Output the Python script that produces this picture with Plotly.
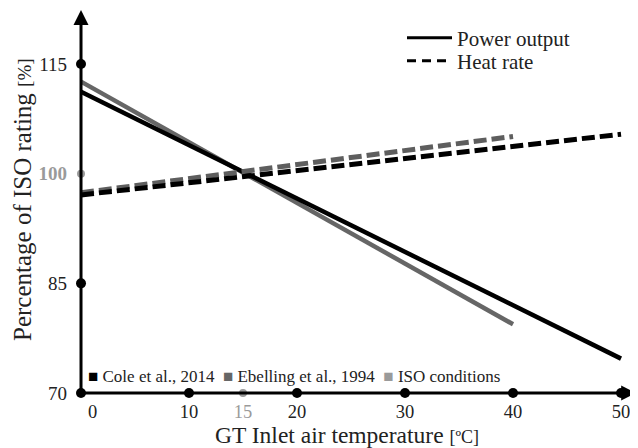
import plotly.graph_objects as go

# ---- data ----
temp_cole = [0, 50]
power_cole = [111.2, 74.7]
heat_cole = [97.1, 105.4]

temp_ebel = [0, 40]
power_ebel = [112.6, 79.4]
heat_ebel = [97.4, 105.1]

x_ticks = [0, 10, 15, 20, 30, 40, 50]
x_tick_labels = ["\u00a0\u00a0\u00a0\u00a0\u00a00", "10", "<span style='color:#9a9a9a'>15</span>", "20", "30", "40", "50"]
y_ticks = [70, 85, 100, 115]
y_tick_labels = ["70", "85", "<span style='color:#9a9a9a'><b>100</b></span>", "115"]

iso_temp = 15
iso_rating = 100

FONT = "Liberation Serif"
BLACK = "#000000"
DARK = "#666666"
LIGHT = "#9a9a9a"

# page is rendered with an 8px body margin; plot area in page pixels: x 70..630, y 8..400
PX0, PY0, PW, PH = 70, 8, 560, 392


def px(xp):
    return (xp - PX0) / PW


def py(yp):
    return (PY0 + PH - yp) / PH


fig = go.Figure()

# power output lines
fig.add_trace(go.Scatter(x=temp_ebel, y=power_ebel, mode="lines",
                         line=dict(color=DARK, width=4.5), showlegend=False))
fig.add_trace(go.Scatter(x=temp_cole, y=power_cole, mode="lines",
                         line=dict(color=BLACK, width=4.5), showlegend=False))
# heat rate lines
fig.add_trace(go.Scatter(x=temp_ebel, y=heat_ebel, mode="lines",
                         line=dict(color="#5e5e5e", width=5, dash="13px,5px"), showlegend=False))
fig.add_trace(go.Scatter(x=temp_cole, y=heat_cole, mode="lines",
                         line=dict(color=BLACK, width=5, dash="13px,5px"), showlegend=False))

# legend entries (two separate legends for precise placement)
fig.add_trace(go.Scatter(x=[None], y=[None], mode="lines", name="Power output",
                         line=dict(color=BLACK, width=3), legend="legend"))
fig.add_trace(go.Scatter(x=[None], y=[None], mode="lines", name="Heat rate",
                         line=dict(color=BLACK, width=3, dash="9px,6px"), legend="legend2"))

# tick dots on axes
bx = [t for t in x_ticks if t != iso_temp]
fig.add_trace(go.Scatter(x=bx, y=[y_ticks[0]] * len(bx), mode="markers",
                         marker=dict(color=BLACK, size=10), cliponaxis=False, showlegend=False))
by = [v for v in y_ticks if v not in (y_ticks[0], iso_rating)]
fig.add_trace(go.Scatter(x=[0] * len(by), y=by, mode="markers",
                         marker=dict(color=BLACK, size=10), cliponaxis=False, showlegend=False))
fig.add_trace(go.Scatter(x=[iso_temp, 0], y=[y_ticks[0], iso_rating], mode="markers",
                         marker=dict(color=LIGHT, size=8), cliponaxis=False, showlegend=False))

# axes with arrows
fig.add_annotation(x=51.4, y=70, ax=0, ay=70, xref="x", yref="y", axref="x", ayref="y",
                   text="", showarrow=True, arrowhead=2, arrowsize=1, arrowwidth=3,
                   arrowcolor=BLACK)
fig.add_annotation(x=0, y=122.4, ax=0, ay=70, xref="x", yref="y", axref="x", ayref="y",
                   text="", showarrow=True, arrowhead=2, arrowsize=1, arrowwidth=3,
                   arrowcolor=BLACK)

# source legend at bottom
fig.add_annotation(
    xref="paper", yref="paper", x=px(86), y=py(376),
    xanchor="left", yanchor="middle", showarrow=False,
    text=("<span style='color:#000'>■</span> Cole et al., 2014  "
          "<span style='color:#666'>■</span> Ebelling et al., 1994  "
          "<span style='color:#9a9a9a'>■</span> ISO conditions"),
    font=dict(family=FONT, size=17, color="#222"))

# axis titles
fig.add_annotation(xref="paper", yref="paper", x=px(347), y=py(435),
                   text="GT Inlet air temperature <span style='font-size:18px'>[ºC]</span>",
                   showarrow=False, xanchor="center", yanchor="middle",
                   font=dict(family=FONT, size=23.5, color="#222"))
fig.add_annotation(xref="paper", yref="paper", x=px(22), y=py(200),
                   text="Percentage of ISO rating <span style='font-size:19px'>[%]</span>",
                   showarrow=False, xanchor="center", yanchor="middle", textangle=-90,
                   font=dict(family=FONT, size=25, color="#222"))

fig.update_layout(
    width=630, height=440,
    margin=dict(l=62, r=8, t=0, b=48),
    plot_bgcolor="white", paper_bgcolor="white",
    font=dict(family=FONT, size=19, color="#222"),
    showlegend=True,
    legend=dict(x=px(402), y=py(38), xanchor="left", yanchor="middle", itemwidth=45,
                bgcolor="rgba(0,0,0,0)", font=dict(family=FONT, size=21, color="#222")),
    legend2=dict(x=px(402), y=py(61), xanchor="left", yanchor="middle", itemwidth=45,
                 bgcolor="rgba(0,0,0,0)", font=dict(family=FONT, size=21, color="#222")),
    xaxis=dict(range=[-1.019, 50.83], showgrid=False, zeroline=False, showline=False,
               tickvals=x_ticks, ticktext=x_tick_labels, ticks="", ticklabelstandoff=-2,
               tickfont=dict(family=FONT, size=18.5, color="#222")),
    yaxis=dict(range=[69.04, 122.67], showgrid=False, zeroline=False, showline=False,
               tickvals=y_ticks, ticktext=y_tick_labels, ticks="", ticklabelstandoff=2,
               tickfont=dict(family=FONT, size=19, color="#222")),
)

fig.write_html("out.html")
